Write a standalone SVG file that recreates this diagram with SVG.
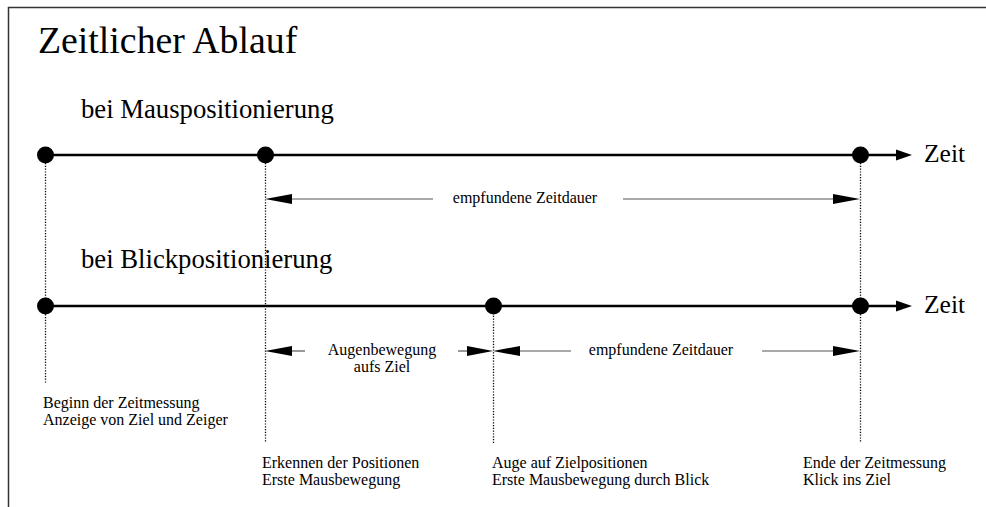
<svg xmlns="http://www.w3.org/2000/svg" width="986" height="507" viewBox="0 0 986 507">
<defs>
<style>
text{font-family:'Liberation Serif','DejaVu Serif',serif;fill:#000}
.title{font-size:37.8px}
.sub{font-size:26.7px}
.zeit{font-size:25.5px}
.lbl{font-size:16px}
.mid{text-anchor:middle}
.axis{stroke:#000;stroke-width:2.5;fill:none}
.dot{fill:#000}
.vdot{stroke:#000;stroke-width:1.3;stroke-dasharray:1.2 1.6;fill:none}
.dim{stroke:#555;stroke-width:1.2;fill:none}
.head{fill:#000}
</style>
</defs>
<rect width="986" height="507" fill="#fff"/>
<path d="M8.5,507 V7.5 H986" stroke="#333" stroke-width="1.5" fill="none"/>
<g font-family="Liberation Serif, DejaVu Serif, serif">
<text class="title" x="38" y="53">Zeitlicher Ablauf</text>
<text class="sub" x="81" y="118">bei Mauspositionierung</text>
<text class="sub" x="81" y="268">bei Blickpositionierung</text>
</g>

<g id="connectors">
<line class="axis" x1="45" y1="155" x2="900" y2="155"/>
<polygon class="head" points="896,149.5 912,155 896,160.5"/>
<line class="axis" x1="45" y1="306" x2="900" y2="306"/>
<polygon class="head" points="896,300.5 912,306 896,311.5"/>
<line class="vdot" x1="45.5" y1="163" x2="45.5" y2="384"/>
<line class="vdot" x1="265.5" y1="163" x2="265.5" y2="443"/>
<line class="vdot" x1="493.5" y1="313" x2="493.5" y2="443"/>
<line class="vdot" x1="860.5" y1="163" x2="860.5" y2="443"/>
<line class="dim" x1="280" y1="199" x2="433" y2="199"/>
<polygon class="head" points="265,199 292,194 292,204"/>
<line class="dim" x1="623" y1="199" x2="845" y2="199"/>
<polygon class="head" points="860,199 833,194 833,204"/>
<line class="dim" x1="280" y1="351" x2="305" y2="351"/>
<polygon class="head" points="265,351 292,346 292,356"/>
<line class="dim" x1="458" y1="351" x2="480" y2="351"/>
<polygon class="head" points="493,351 467,346 467,356"/>
<line class="dim" x1="508" y1="351" x2="571" y2="351"/>
<polygon class="head" points="493,351 520,346 520,356"/>
<line class="dim" x1="762" y1="351" x2="845" y2="351"/>
<polygon class="head" points="860,351 833,346 833,356"/>
</g>

<g id="node-start-maus"><circle class="dot" cx="45.5" cy="155" r="8.5"/></g>
<g id="node-erkennen-maus"><circle class="dot" cx="265.5" cy="155" r="8.5"/></g>
<g id="node-ende-maus"><circle class="dot" cx="860.5" cy="155" r="8.5"/><text class="zeit" x="924" y="162">Zeit</text></g>
<g id="label-dauer-maus"><text class="lbl mid" x="525" y="203">empfundene Zeitdauer</text></g>

<g id="node-start-blick"><circle class="dot" cx="45.5" cy="306" r="8.5"/></g>
<g id="node-auge-blick"><circle class="dot" cx="493.5" cy="306" r="8.5"/></g>
<g id="node-ende-blick"><circle class="dot" cx="860.5" cy="306" r="8.5"/><text class="zeit" x="924" y="313">Zeit</text></g>
<g id="label-augenbewegung"><text class="lbl mid" x="382" y="355">Augenbewegung</text><text class="lbl mid" x="382" y="372">aufs Ziel</text></g>
<g id="label-dauer-blick"><text class="lbl mid" x="661" y="355">empfundene Zeitdauer</text></g>

<g id="note-beginn"><text class="lbl" x="43" y="408">Beginn der Zeitmessung</text><text class="lbl" x="43" y="425">Anzeige von Ziel und Zeiger</text></g>
<g id="note-erkennen"><text class="lbl" x="262" y="468">Erkennen der Positionen</text><text class="lbl" x="262" y="485">Erste Mausbewegung</text></g>
<g id="note-auge"><text class="lbl" x="492" y="468">Auge auf Zielpositionen</text><text class="lbl" x="492" y="485">Erste Mausbewegung durch Blick</text></g>
<g id="note-ende"><text class="lbl" x="803" y="468">Ende der Zeitmessung</text><text class="lbl" x="803" y="485">Klick ins Ziel</text></g>
</svg>
